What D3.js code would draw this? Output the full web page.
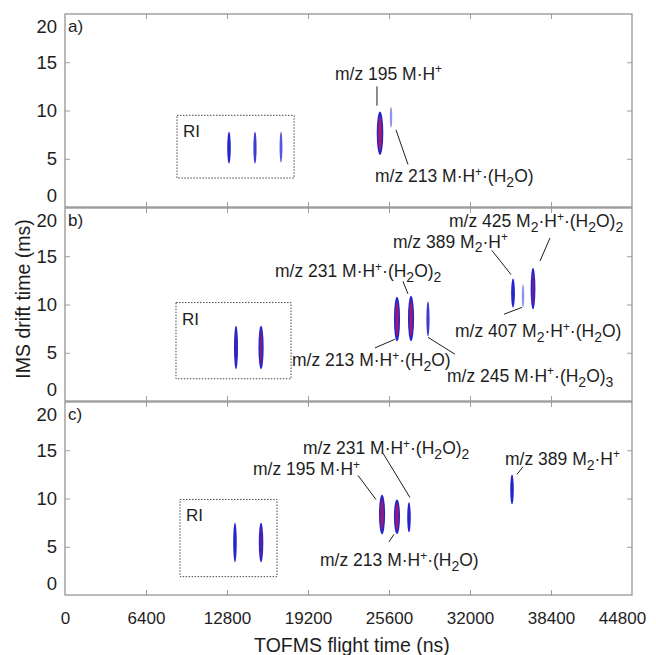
<!DOCTYPE html>
<html>
<head>
<meta charset="utf-8">
<script src="https://cdn.jsdelivr.net/npm/d3@7"></script>
<style>
  body { margin: 0; background: #fff; }
  svg { font-family: "Liberation Sans", Arial, sans-serif; }
</style>
</head>
<body>
<svg width="656" height="655"></svg>
<script>
// values
var panelNames = ["a)", "b)", "c)"];
var tofTicks = [0, 6400, 12800, 19200, 25600, 32000, 38400, 44800];
var driftTicks = [0, 5, 10, 15, 20];

// reactant ion (RI) boxes: [tof from, tof to, drift from, drift to]
var riBoxes = [
  [8850, 18100, 3.0, 9.5],
  [8770, 17860, 2.3, 10.2],
  [9090, 16750, 1.9, 9.9]
];

// peaks per panel: tof (ns), drift low / high (ms), relative intensity
var peakTofA = [12958, 15012, 17067, 24890, 25760];
var peakLoA = [4.5, 4.5, 4.6, 5.4, 8.2];
var peakHiA = [7.8, 7.8, 7.8, 9.9, 10.4];
var peakIntA = [0.5, 0.42, 0.32, 0.95, 0.12];

var peakTofB = [13510, 15490, 26232, 27340, 28680, 35400, 36190, 36980];
var peakLoB = [3.3, 3.3, 6.2, 6.2, 6.7, 9.7, 9.7, 9.5];
var peakHiB = [7.8, 7.8, 10.8, 10.9, 10.3, 12.7, 12.1, 13.8];
var peakIntB = [0.6, 0.78, 0.9, 0.9, 0.42, 0.55, 0.12, 0.72];

var peakTofC = [13430, 15490, 25050, 26230, 27180, 35320];
var peakLoC = [3.4, 3.4, 6.3, 6.3, 6.5, 9.4];
var peakHiC = [7.5, 7.5, 10.4, 9.9, 9.6, 12.5];
var peakIntC = [0.5, 0.68, 0.9, 0.9, 0.5, 0.5];

// annotations: label, label anchor (tof, drift), leader line (tof1, drift1, tof2, drift2)
var notesA = [
  ["m/z 195 M·H^+", 21330, 13.2, 24650, 12.5, 24650, 10.5],
  ["m/z 213 M·H^+·(H_2O)", 24490, 2.6, 26150, 8.0, 27100, 4.4]
];
var notesB = [
  ["m/z 231 M·H^+·(H_2O)_2", 16590, 12.8, 26700, 12.4, 27100, 11.1],
  ["m/z 213 M·H^+·(H_2O)", 17940, 3.6, 24490, 5.5, 26070, 6.4],
  ["m/z 245 M·H^+·(H_2O)_3", 30180, 2.0, 28680, 6.6, 30810, 4.85],
  ["m/z 389 M_2·H^+", 25910, 15.9, 33730, 15.6, 35240, 13.1],
  ["m/z 425 M_2·H^+·(H_2O)_2", 30340, 18.0, 37530, 14.5, 38320, 16.9],
  ["m/z 407 M_2·H^+·(H_2O)", 30810, 6.6, 34690, 9.0, 36110, 9.7]
];
var notesC = [
  ["m/z 231 M·H^+·(H_2O)_2", 18800, 14.6, 25120, 14.7, 27260, 10.1],
  ["m/z 195 M·H^+", 14850, 12.4, 23150, 12.4, 24570, 9.9],
  ["m/z 213 M·H^+·(H_2O)", 20150, 3.0, 25600, 5.5, 26000, 6.3],
  ["m/z 389 M_2·H^+", 34770, 13.5, 35710, 12.5, 36190, 13.3]
];

var peaks = [
  [peakTofA, peakLoA, peakHiA, peakIntA],
  [peakTofB, peakLoB, peakHiB, peakIntB],
  [peakTofC, peakLoC, peakHiC, peakIntC]
].map(function(p) {
  return p[0].map(function(t, i) {
    return {tof: t, lo: p[1][i], hi: p[2][i], v: p[3][i]};
  });
});
var notes = [notesA, notesB, notesC];

var svg = d3.select("svg");
var left = 65, right = 632, panelH = 193;
var panelTops = [14, 208, 402];
var ink = "#1e1e1e", frame = "#8c8c8c";
var fontFam = "Liberation Sans, Arial, sans-serif";

var x = d3.scaleLinear().domain([0, 44800]).range([left, right]);
var outerColor = d3.scaleLinear().domain([0, 0.5]).range(["#b3b8f2", "#2424cc"]).clamp(true);
var rxScale = function(v) { return 1.2 + 2.3 * v * v; };

// writes "M_2·H^+" style strings with sub/superscripts
function richText(text, str, fs) {
  var re = /([_^])(.)|([^_^]+)/g, m, shift = 0;
  while ((m = re.exec(str)) !== null) {
    if (m[1]) {
      var s = m[1] == "^" ? -0.36 * fs : 0.28 * fs;
      text.append("tspan")
          .attr("dy", s - shift)
          .attr("font-size", m[1] == "^" ? fs * 0.68 : fs * 0.8)
          .text(m[2]);
      shift = s;
    } else {
      text.append("tspan").attr("dy", -shift).text(m[3]);
      shift = 0;
    }
  }
}

function greyTicks(a) {
  a.select(".domain").remove();
  a.selectAll("line").attr("stroke", "#a0a0a0");
}

panelTops.forEach(function(top, k) {
  var bottom = top + panelH;
  var y = d3.scaleLinear().domain([0, 20]).range([bottom, top]);
  var g = svg.append("g");

  // inward ticks on all four sides
  g.append("g")
      .attr("transform", "translate(" + left + ",0)")
      .call(d3.axisLeft(y).tickValues(driftTicks).tickSize(-5).tickPadding(8))
      .call(greyTicks)
      .call(function(a) {
        a.selectAll(".tick").filter(function(d) { return d == 0 || d == 20; })
            .select("line").remove();
        a.selectAll("text")
            .attr("font-size", 18.5)
            .attr("font-family", fontFam)
            .attr("fill", ink)
            .attr("y", function(d) { return d == 20 ? 13 : d == 0 ? -11 : 0; });
      });
  g.append("g")
      .attr("transform", "translate(" + right + ",0)")
      .call(d3.axisRight(y).tickValues([5, 10, 15]).tickSize(-5).tickFormat(""))
      .call(greyTicks);
  var inner = tofTicks.slice(1, -1);
  g.append("g")
      .attr("transform", "translate(0," + bottom + ")")
      .call(d3.axisBottom(x).tickValues(inner).tickSize(-5).tickFormat(""))
      .call(greyTicks);
  g.append("g")
      .attr("transform", "translate(0," + top + ")")
      .call(d3.axisTop(x).tickValues(inner).tickSize(-5).tickFormat(""))
      .call(greyTicks);

  g.append("rect")
      .attr("x", left).attr("y", top)
      .attr("width", right - left).attr("height", panelH)
      .attr("fill", "none")
      .attr("stroke", frame)
      .attr("stroke-width", 1.2);

  g.append("text")
      .attr("x", left + 3).attr("y", top + 18)
      .attr("font-size", 17)
      .attr("fill", ink)
      .text(panelNames[k]);

  // RI box
  var b = riBoxes[k];
  g.append("rect")
      .attr("x", x(b[0])).attr("y", y(b[3]))
      .attr("width", x(b[1]) - x(b[0])).attr("height", y(b[2]) - y(b[3]))
      .attr("fill", "none")
      .attr("stroke", "#333")
      .attr("stroke-width", 0.9)
      .attr("stroke-dasharray", "1.5,1.5");
  g.append("text")
      .attr("x", x(b[0]) + 6).attr("y", y(b[3]) + 22)
      .attr("font-size", 17)
      .attr("fill", ink)
      .text("RI");

  // peaks
  var pk = g.selectAll(".peak").data(peaks[k]).enter().append("g").attr("class", "peak");
  pk.append("ellipse")
      .attr("cx", function(d) { return x(d.tof); })
      .attr("cy", function(d) { return y((d.lo + d.hi) / 2); })
      .attr("rx", function(d) { return rxScale(d.v); })
      .attr("ry", function(d) { return (y(d.lo) - y(d.hi)) / 2; })
      .attr("fill", function(d) { return outerColor(d.v); });
  pk.filter(function(d) { return d.v > 0.55; }).append("ellipse")
      .attr("cx", function(d) { return x(d.tof); })
      .attr("cy", function(d) { return y((d.lo + d.hi) / 2); })
      .attr("rx", function(d) { return rxScale(d.v) * 0.55; })
      .attr("ry", function(d) { return (y(d.lo) - y(d.hi)) / 2 * 0.78; })
      .attr("fill", "#b8185e")
      .attr("opacity", function(d) { return Math.min(1, (d.v - 0.5) * 2); });

  // annotations
  notes[k].forEach(function(n) {
    g.append("line")
        .attr("x1", x(n[3])).attr("y1", y(n[4]))
        .attr("x2", x(n[5])).attr("y2", y(n[6]))
        .attr("stroke", ink)
        .attr("stroke-width", 1);
    var t = g.append("text")
        .attr("x", x(n[1])).attr("y", y(n[2]))
        .attr("font-size", 17.5)
        .attr("fill", ink);
    richText(t, n[0], 17.5);
  });

  if (k == 2) {
    g.append("g")
        .attr("transform", "translate(0," + bottom + ")")
        .call(d3.axisBottom(x).tickValues(tofTicks).tickSize(0).tickPadding(17)
            .tickFormat(d3.format("d")))
        .call(function(a) {
          a.select(".domain").remove();
          a.selectAll("text")
              .attr("font-size", 17)
              .attr("font-family", fontFam)
              .attr("fill", ink)
              .attr("dx", function(d, i) { return i == tofTicks.length - 1 ? -10 : 0; });
        });
  }
});

svg.append("text")
    .attr("x", 352).attr("y", 652)
    .attr("text-anchor", "middle")
    .attr("font-size", 19.5)
    .attr("fill", ink)
    .text("TOFMS flight time (ns)");

svg.append("text")
    .attr("transform", "translate(30,299) rotate(-90)")
    .attr("text-anchor", "middle")
    .attr("font-size", 19.5)
    .attr("fill", ink)
    .text("IMS drift time (ms)");
</script>
</body>
</html>
